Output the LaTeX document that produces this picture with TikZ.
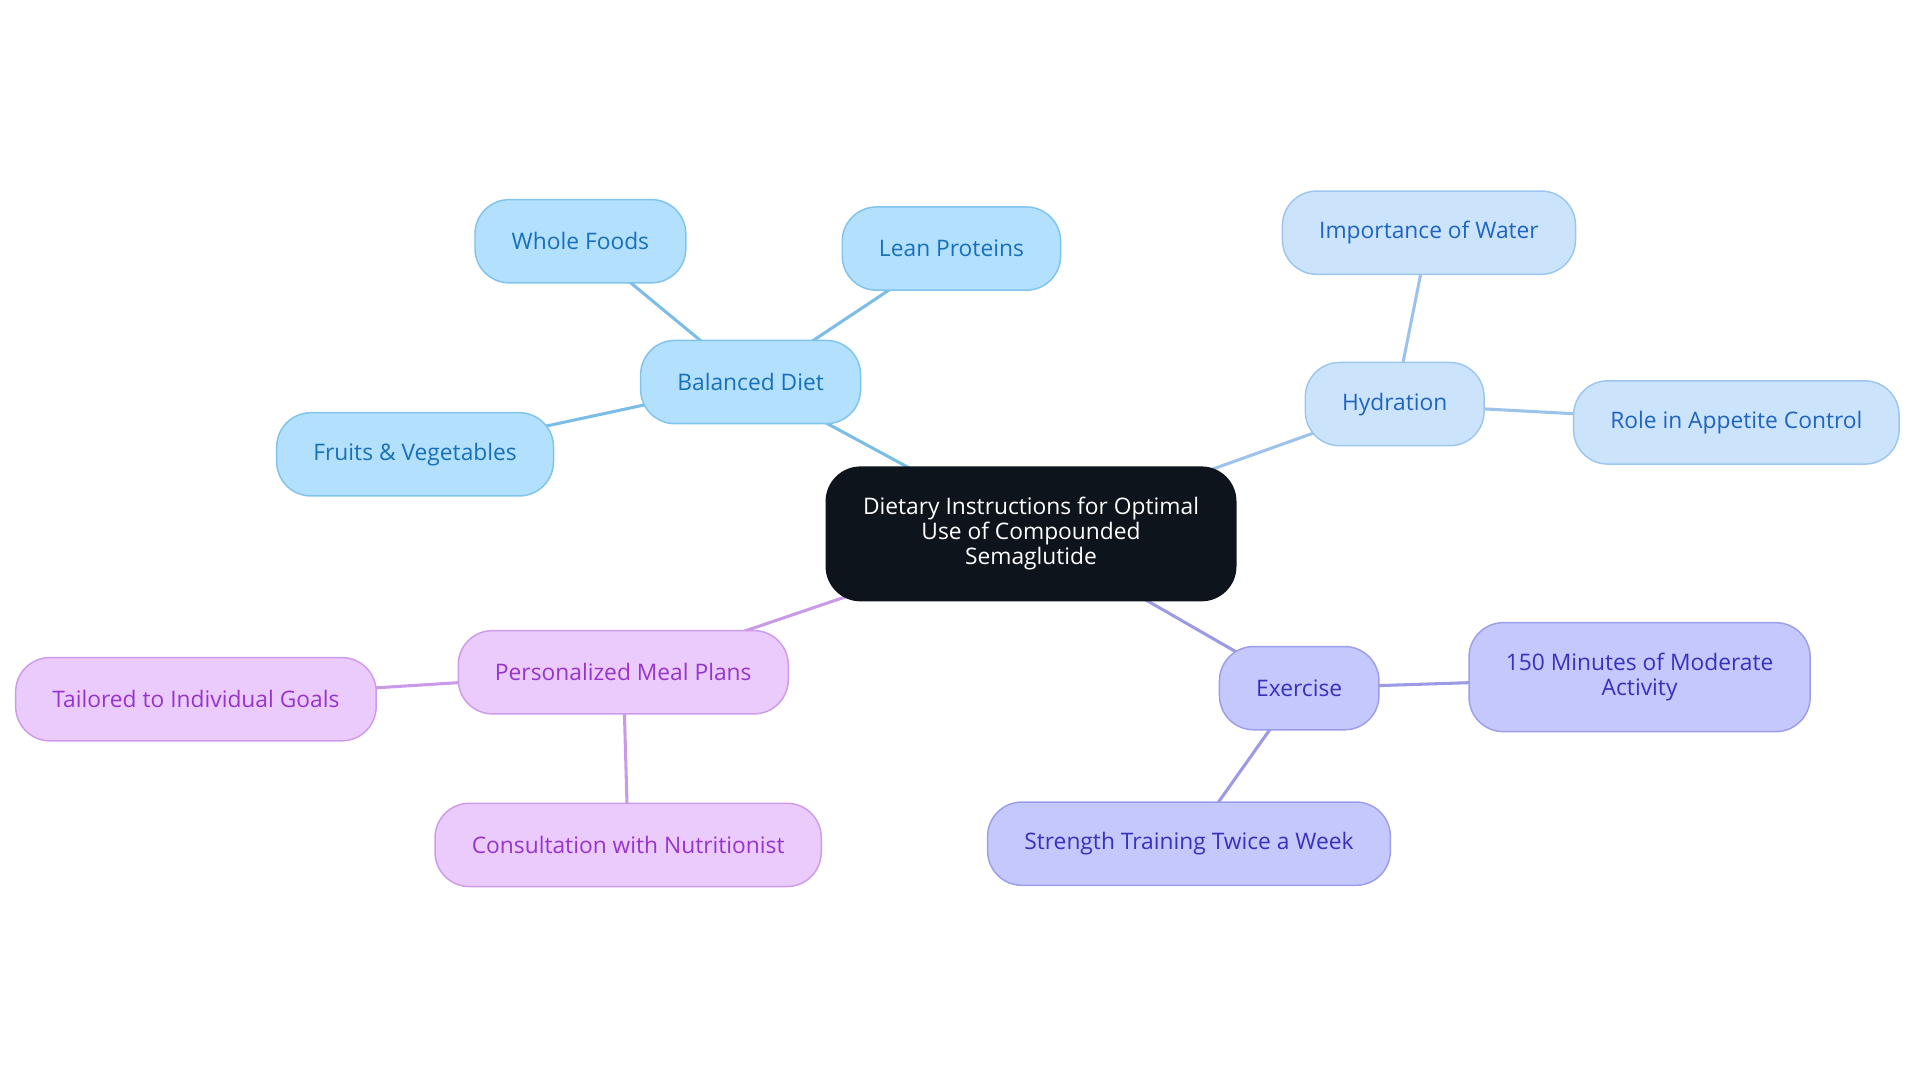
\documentclass[tikz,border=0pt]{standalone}
\usepackage{fontspec}
\setmainfont{Open Sans}
\usepackage{tikz}
\usetikzlibrary{positioning, backgrounds}
\definecolor{rootfill}{RGB}{13, 20, 27}
\definecolor{balfill}{RGB}{179, 224, 253}
\definecolor{baldraw}{RGB}{128, 196, 238}
\definecolor{baltext}{RGB}{24, 112, 184}
\definecolor{balline}{RGB}{124, 189, 232}
\definecolor{hydfill}{RGB}{204, 228, 251}
\definecolor{hyddraw}{RGB}{156, 198, 240}
\definecolor{hydtext}{RGB}{30, 100, 192}
\definecolor{hydline}{RGB}{157, 195, 236}
\definecolor{exfill}{RGB}{197, 200, 252}
\definecolor{exdraw}{RGB}{156, 158, 234}
\definecolor{extext}{RGB}{58, 48, 190}
\definecolor{exline}{RGB}{157, 154, 229}
\definecolor{mealfill}{RGB}{235, 203, 252}
\definecolor{mealdraw}{RGB}{206, 155, 236}
\definecolor{mealtext}{RGB}{150, 52, 205}
\definecolor{mealline}{RGB}{200, 154, 232}
\tikzset{
    mmnode/.style={rounded corners=28pt, draw, line width=1.2pt, minimum height=68pt, inner xsep=30pt, align=center, font=\fontsize{18.6}{20.5}\selectfont},
    rootnode/.style={mmnode, fill=rootfill, draw=rootfill, text=white, minimum width=330pt, minimum height=109pt},
    balnode/.style={mmnode, fill=balfill, draw=baldraw, text=baltext},
    hydnode/.style={mmnode, fill=hydfill, draw=hyddraw, text=hydtext},
    exnode/.style={mmnode, fill=exfill, draw=exdraw, text=extext},
    mealnode/.style={mmnode, fill=mealfill, draw=mealdraw, text=mealtext},
    link/.style={line width=2.5pt}
}

\begin{document}
\begin{tikzpicture}[x=1pt, y=-1pt]
    \useasboundingbox (0,0) rectangle (1568,884.4);
    % centre
    \node[rootnode] (root) at (842,436) {Dietary Instructions for Optimal\\Use of Compounded\\Semaglutide};
    % balanced diet
    \node[balnode] (bal) at (613,312) {Balanced Diet};
    \node[balnode] (whole) at (474,197) {Whole Foods};
    \node[balnode] (lean) at (777,203) {Lean Proteins};
    \node[balnode] (fruits) at (339,371) {Fruits \& Vegetables};
    % hydration
    \node[hydnode] (hyd) at (1139,330) {Hydration};
    \node[hydnode] (water) at (1167,190) {Importance of Water};
    \node[hydnode] (appetite) at (1418,345) {Role in Appetite Control};
    % exercise
    \node[exnode] (ex) at (1061,562) {Exercise};
    \node[exnode, minimum height=89pt] (minutes) at (1339,553) {150 Minutes of Moderate\\Activity};
    \node[exnode] (strength) at (971,689) {Strength Training Twice a Week};
    % meal plans
    \node[mealnode] (meal) at (509,549) {Personalized Meal Plans};
    \node[mealnode] (goals) at (160,571) {Tailored to Individual Goals};
    \node[mealnode] (nutri) at (513,690) {Consultation with Nutritionist};

    \begin{pgfonlayer}{background}
        \draw[link, balline] (root.center) -- (bal.center);
        \draw[link, balline] (bal.center) -- (whole.center);
        \draw[link, balline] (bal.center) -- (lean.center);
        \draw[link, balline] (bal.center) -- (fruits.center);
        \draw[link, hydline] (root.center) -- (hyd.center);
        \draw[link, hydline] (hyd.center) -- (water.center);
        \draw[link, hydline] (hyd.center) -- (appetite.center);
        \draw[link, exline] (root.center) -- (ex.center);
        \draw[link, exline] (ex.center) -- (minutes.center);
        \draw[link, exline] (ex.center) -- (strength.center);
        \draw[link, mealline] (root.center) -- (meal.center);
        \draw[link, mealline] (meal.center) -- (goals.center);
        \draw[link, mealline] (meal.center) -- (nutri.center);
    \end{pgfonlayer}
\end{tikzpicture}
\end{document}
